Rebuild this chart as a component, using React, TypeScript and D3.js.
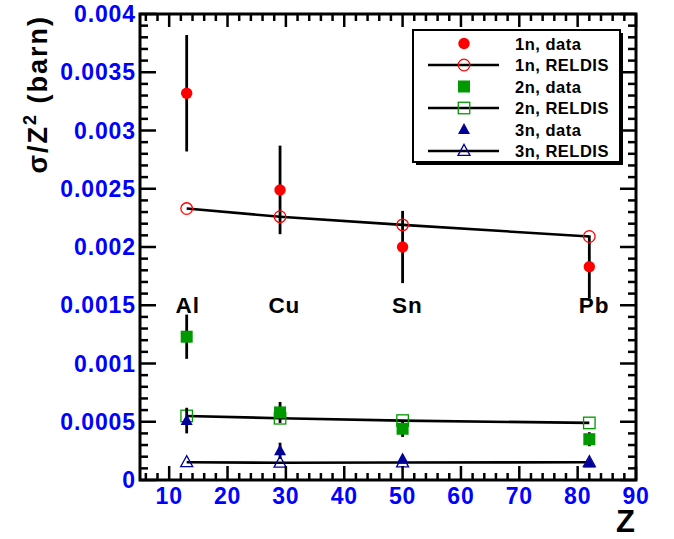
import React from "react";
import * as d3 from "d3";

const zValues = [13, 29, 50, 82];
const n1Data = [0.00332, 0.00249, 0.002, 0.00183];
const n1Err = [0.0005, 0.00038, 0.00031, 0.00027];
const n1Reldis = [0.00233, 0.00226, 0.00219, 0.00209];
const n2Data = [0.00123, 0.00058, 0.00044, 0.00035];
const n2Err = [0.00019, 0.00009, 0.00007, 0.00006];
const n2Reldis = [0.00055, 0.00053, 0.00051, 0.00049];
const n3Data = [0.00051, 0.00025, 0.00018, 0.000145];
const n3Err = [0.00011, 0.00007, 0.00003, 0.00002];
const n3Reldis = [0.000152, 0.000148, 0.00015, 0.000152];

const elementNames = ["Al", "Cu", "Sn", "Pb"];
const elementLabelZ = [11.1, 27.0, 48.2, 80.2];
const elementLabelY = 0.001436;

const xTicks = [10, 20, 30, 40, 50, 60, 70, 80, 90];
const yTicks = [0, 0.0005, 0.001, 0.0015, 0.002, 0.0025, 0.003, 0.0035, 0.004];
const yTickLabels = ["0", "0.0005", "0.001", "0.0015", "0.002", "0.0025", "0.003", "0.0035", "0.004"];

const legendLabels = ["1n, data", "1n, RELDIS", "2n, data", "2n, RELDIS", "3n, data", "3n, RELDIS"];

const RED = "#ff0000";
const GREEN = "#009900";
const NAVY = "#000099";
const FONT = "'Liberation Sans', Arial, Helvetica, sans-serif";

const W = 674;
const H = 539;
const left = 140;
const right = 636;
const top = 14;
const bottom = 480;

const x = d3.scaleLinear().domain([5, 90]).range([left, right]);
const y = d3.scaleLinear().domain([0, 0.004]).range([bottom, top]);

type Kind = "circle" | "square" | "triangle";

function Marker({ kind, cx, cy, color, filled }: { kind: Kind; cx: number; cy: number; color: string; filled: boolean }) {
  const fill = filled ? color : "none";
  const sw = filled ? 0 : 1.3;
  if (kind === "circle") {
    return <circle cx={cx} cy={cy} r={filled ? 5.7 : 5.8} fill={fill} stroke={color} strokeWidth={sw} />;
  }
  if (kind === "square") {
    const s = filled ? 12 : 11.5;
    return <rect x={cx - s / 2} y={cy - s / 2} width={s} height={s} fill={fill} stroke={color} strokeWidth={sw} />;
  }
  const h = 11;
  const w = 12;
  const pts = `${cx},${cy - h * 0.6} ${cx - w / 2},${cy + h * 0.4} ${cx + w / 2},${cy + h * 0.4}`;
  return <polygon points={pts} fill={fill} stroke={color} strokeWidth={sw} />;
}

const series = [
  { data: n1Data, err: n1Err, reldis: n1Reldis, color: RED, kind: "circle" as Kind },
  { data: n2Data, err: n2Err, reldis: n2Reldis, color: GREEN, kind: "square" as Kind },
  { data: n3Data, err: n3Err, reldis: n3Reldis, color: NAVY, kind: "triangle" as Kind },
];

export default function App() {
  const line = d3
    .line<number>()
    .x((_, i) => x(zValues[i]))
    .y((v) => y(v));

  const xMinor = d3.range(6, 90.001, 2).filter((v) => v % 10 !== 0);
  const yMinor = d3.range(0, 40).map((i) => i * 0.0001).filter((_, i) => i % 5 !== 0);

  const legX = 413;
  const legY = 30;
  const legW = 207;
  const legH = 132;
  const rowY = (i: number) => 43.5 + i * 21.5;

  return (
    <div style={{ position: "absolute", left: 0, top: 0 }}>
      <svg width={W} height={H} style={{ display: "block", background: "#fff" }} fontFamily={FONT}>
        <rect x={0} y={0} width={W} height={H} fill="#fff" />

        {series.map((s, si) => (
          <g key={si}>
            <path d={line(s.reldis) || ""} fill="none" stroke="#000" strokeWidth={2.6} />
            {s.data.map((v, i) => (
              <line
                key={"e" + i}
                x1={x(zValues[i])}
                x2={x(zValues[i])}
                y1={y(v - s.err[i])}
                y2={y(v + s.err[i])}
                stroke="#000"
                strokeWidth={2.8}
              />
            ))}
            {s.data.map((v, i) => (
              <Marker key={"d" + i} kind={s.kind} cx={x(zValues[i])} cy={y(v)} color={s.color} filled={true} />
            ))}
            {s.reldis.map((v, i) => (
              <Marker key={"r" + i} kind={s.kind} cx={x(zValues[i])} cy={y(v)} color={s.color} filled={false} />
            ))}
          </g>
        ))}

        {elementNames.map((n, i) => (
          <text key={n} x={x(elementLabelZ[i])} y={y(elementLabelY)} fontSize={22.5} fontWeight="bold" fill="#000" letterSpacing={0.9}>
            {n}
          </text>
        ))}

        <rect x={left} y={top} width={right - left} height={bottom - top} fill="none" stroke="#000" strokeWidth={3} />

        {xTicks.map((t) => (
          <g key={"xt" + t}>
            <line x1={x(t)} x2={x(t)} y1={bottom} y2={bottom - 14} stroke="#000" strokeWidth={2.5} />
            <line x1={x(t)} x2={x(t)} y1={top} y2={top + 13} stroke="#000" strokeWidth={2.5} />
            <text x={x(t)} y={504} textAnchor="middle" fontSize={23} fontWeight="bold" fill="#0000ff" letterSpacing={0.8}>
              {t}
            </text>
          </g>
        ))}
        {xMinor.map((t) => (
          <g key={"xm" + t}>
            <line x1={x(t)} x2={x(t)} y1={bottom} y2={bottom - 7} stroke="#000" strokeWidth={2.5} />
            <line x1={x(t)} x2={x(t)} y1={top} y2={top + 7} stroke="#000" strokeWidth={2.5} />
          </g>
        ))}

        {yTicks.map((t, i) => (
          <g key={"yt" + i}>
            <line x1={left} x2={left + 16} y1={y(t)} y2={y(t)} stroke="#000" strokeWidth={2.5} />
            <line x1={right} x2={right - 16} y1={y(t)} y2={y(t)} stroke="#000" strokeWidth={2.5} />
            <text x={136} y={y(t) + 8} textAnchor="end" fontSize={23} fontWeight="bold" fill="#0000ff" letterSpacing={0.9}>
              {yTickLabels[i]}
            </text>
          </g>
        ))}
        {yMinor.map((t, i) => (
          <g key={"ym" + i}>
            <line x1={left} x2={left + 8} y1={y(t)} y2={y(t)} stroke="#000" strokeWidth={2.5} />
            <line x1={right} x2={right - 8} y1={y(t)} y2={y(t)} stroke="#000" strokeWidth={2.5} />
          </g>
        ))}

        <text x={635} y={532} textAnchor="end" fontSize={31} fontWeight="bold" fill="#000">
          Z
        </text>
        <text transform="translate(47,15) rotate(-90)" textAnchor="end" fontSize={27} fontWeight="bold" fill="#000" letterSpacing={2}>
          σ/Z
          <tspan fontSize={18} dy={-11}>
            2
          </tspan>
          <tspan dy={11}> (barn)</tspan>
        </text>

        <rect x={legX + 3} y={legY + 3} width={legW} height={legH} fill="#000" />
        <rect x={legX} y={legY} width={legW} height={legH} fill="#fff" stroke="#000" strokeWidth={2} />
        {legendLabels.map((lab, i) => {
          const s = series[Math.floor(i / 2)];
          const isReldis = i % 2 === 1;
          const cy = rowY(i);
          return (
            <g key={lab}>
              {isReldis && <line x1={428} x2={499} y1={cy} y2={cy} stroke="#000" strokeWidth={2.6} />}
              <Marker kind={s.kind} cx={464} cy={cy} color={s.color} filled={!isReldis} />
              <text x={515} y={cy + 6} fontSize={16.5} fontWeight="bold" fill="#000" letterSpacing={0.5}>
                {lab}
              </text>
            </g>
          );
        })}
      </svg>
    </div>
  );
}
